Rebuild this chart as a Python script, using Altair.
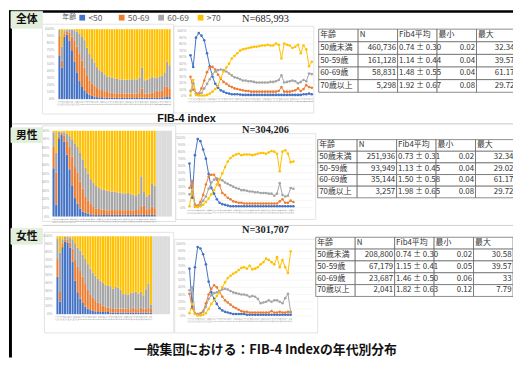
import altair as alt
import pandas as pd

# ---------------- data ----------------
FIB_BINS = ["0.1","0.2","0.3","0.4","0.5","0.6","0.7","0.8","0.9","1.0",
            "1.1","1.2","1.3","1.4","1.5","1.6","1.7","1.8","1.9","2.0",
            "2.1","2.2","2.3","2.4","2.5","2.6","2.7","2.8","2.9","3.0",
            "3.1","3.2","3.3","3.4","3.5","3.6","3.7","3.8","3.9","4.0",
            "4.1","4.2","4.3","4.4","4.5"]
AGES = ["<50", "50-69", "60-69", ">70"]
COLORS = ["#4472C4", "#ED7D31", "#A5A5A5", "#FFC000"]

# 全体 (% of each FIB-4 bin)
ALL_LT50 = [63,45,90,97,93,86,66,46,30,19, 13,9,7,5,4,3,3,3,2.5,2, 2,2,2,2,2,2,2,2,2,2, 2,2,2,2,2,2,2,2,2,2, 2,3,3,4,3]
ALL_50S  = [30,10,5,4,12,24,37,44,45,41, 33,27,22,19,16,14,12,11,10,9, 8,8,7,7,7,7,7,7,7,7, 7,7,8,14,7,7,7,8,9,12, 8,11,17,14,13]
ALL_60S  = [8,20,4,3,5,12,19,26,34,38, 40,41,40,38,35,32,29,28,26,24, 24,23,23,22,21,21,21,21,21,22, 22,23,25,32,21,22,23,24,23,20, 22,25,23,35,34]
ALL_70P  = [1,25,2,1,1,1,2,4,7,11, 16,28,38,44,50,58,62,66,70,72, 73,74,75,76,76,77,78,78,79,78, 78,81,79,58,81,79,78,74,76,79, 66,78,72,46,53]
# 男性
MALE_LT50 = [63,14,75,98,95,83,70,48,28,20, 12,7,5,4,3,2,2,2,2,2, 2,2,2,2,2,2,2,2,2,2, 2,2,2,2,2,2,2,2,2]
MALE_50S  = [28,38,2,3,8,18,33,44,47,47, 40,32,21,18,14,12,9,8,7,7, 6,6,6,6,6,6,6,6,6,6, 6,6,6,9,12,7,7,10,8]
MALE_60S  = [19,23,5,1,4,10,16,27,36,40, 42,41,39,36,34,32,30,28,27,25, 25,24,23,23,22,22,21,21,21,20, 20,17,20,35,18,16,17,28,27]
MALE_70P  = [2,26,1,1,2,4,8,13,19,25, 33,40,49,58,66,71,74,76,77,75, 76,76,76,75,76,77,78,78,77,79, 81,80,77,52,80,82,77,65,66]
# 女性
FEMALE_LT50 = [66,13,68,96,94,86,72,48,33,24, 17,11,8,6,5,4,3,3,3,3, 3,2,2,2,2,2,2,2,2,2, 2,2,2,2,2,2,2,2]
FEMALE_50S  = [31,11,4,3,4,7,18,30,38,43, 40,34,27,22,19,16,13,11,9,7, 6,6,5,5,5,5,5,5,5,5, 7,5,5,6,5,5,6,5]
FEMALE_60S  = [36,40,4,3,3,6,13,24,29,32, 33,35,37,38,37,35,33,32,31,30, 30,29,27,28,27,24,18,19,20,22, 20,22,22,20,18,25,31,6]
FEMALE_70P  = [4,17,3,1,1,2,4,10,17,22, 28,33,40,47,53,56,59,61,64,67, 68,66,70,65,66,68,72,75,80,78, 75,72,82,68,78,68,60,90]

TICK_VALS = [0, 10, 20, 30, 40, 50, 60, 70, 80, 90, 100]
TICK_LABELS = ["0%", "10%", "20%", "30%", "40%", "50%", "60%", "70%", "80%", "90%", "100%"]

TABLE_HEADER = ["年齢", "N", "Fib4平均", "最小", "最大"]
TABLE_AGES = ["50歳未満", "50-59歳", "60-69歳", "70歳以上"]
ALL_N = ["460,736", "161,128", "58,831", "5,298"]
ALL_MEAN = ["0.74 ± 0.30", "1.14 ± 0.44", "1.48 ± 0.55", "1.92 ± 0.67"]
ALL_MIN = ["0.02", "0.04", "0.04", "0.08"]
ALL_MAX = ["32.34", "39.57", "61.17", "29.72"]
MALE_N = ["251,936", "93,949", "35,144", "3,257"]
MALE_MEAN = ["0.73 ± 0.31", "1.13 ± 0.45", "1.50 ± 0.58", "1.98 ± 0.65"]
MALE_MIN = ["0.02", "0.04", "0.04", "0.08"]
MALE_MAX = ["32.34", "29.02", "61.17", "29.72"]
FEMALE_N = ["208,800", "67,179", "23,687", "2,041"]
FEMALE_MEAN = ["0.74 ± 0.30", "1.15 ± 0.41", "1.46 ± 0.50", "1.82 ± 0.63"]
FEMALE_MIN = ["0.02", "0.05", "0.06", "0.12"]
FEMALE_MAX = ["30.58", "39.57", "33", "7.79"]

SECTION_LABELS = ["全体", "男性", "女性"]
N_LABELS = ["N=685,993", "N=304,206", "N=301,707"]
CAPTION = "一般集団における：FIB-4 Indexの年代別分布"
SUBTITLE = "FIB-4 index"

CJK = "Noto Sans CJK JP"

# ---------------- helpers ----------------
def series_df(series):
    rows = []
    for k, (age, vals) in enumerate(zip(AGES, series)):
        for i, v in enumerate(vals):
            rows.append({"bin": FIB_BINS[i], "i": i, "age": age, "k": k, "v": v})
    return pd.DataFrame(rows)

ticks_df = pd.DataFrame({"v": TICK_VALS, "frac": [t / 100 for t in TICK_VALS], "lab": TICK_LABELS})

legend = alt.Legend(orient="none", legendX=55, legendY=3, direction="horizontal",
                    title="年齢", titleOrient="left", titleFontSize=7, titleFontWeight="normal",
                    titleColor="#595959", titleFont=CJK, titlePadding=2,
                    symbolType="square", symbolSize=34, symbolStrokeWidth=0,
                    labelFontSize=8.5, labelColor="#595959", labelFont=CJK, labelOffset=2,
                    gridAlign="all", columnPadding=7)
color_scale = alt.Scale(domain=AGES, range=COLORS)
stroke_scale = alt.Scale(domain=AGES, range=COLORS)
fill_scale = alt.Scale(domain=AGES, range=COLORS)

TICK_TEXT = "#a6a6a6"


def bar_group(series, xr, yr, ylab_x, xlab_y, fill_bottom):
    df = series_df(series)
    n = len(series[0])
    xs = alt.Scale(type="band", domain=FIB_BINS, range=xr, paddingInner=0.2, paddingOuter=0.05)
    ys = alt.Scale(type="linear", domain=[0, 1], range=yr, nice=False, zero=True)
    layers = []
    if n < len(FIB_BINS):
        filler = pd.DataFrame({"bin": FIB_BINS[n:], "top": [1] * (len(FIB_BINS) - n)})
        layers.append(alt.Chart(filler).mark_bar(color="#dcdcdc", width=alt.RelativeBandSize(1.35)).encode(
            x=alt.X("bin:N", scale=xs, axis=None),
            y=alt.Y("top:Q", scale=ys, axis=None),
            y2=alt.value(fill_bottom)))
    bars = alt.Chart(df).mark_bar().encode(
        x=alt.X("bin:N", scale=xs, axis=None),
        y=alt.Y("v:Q", stack="normalize", scale=ys, axis=None),
        color=alt.Color("age:N", scale=color_scale, legend=legend),
        order=alt.Order("k:Q", sort="ascending"))
    ylab = alt.Chart(ticks_df).mark_text(align="right", baseline="middle", fontSize=3.8, color=TICK_TEXT).encode(
        y=alt.Y("frac:Q", scale=ys, axis=None), x=alt.value(ylab_x), text="lab:N")
    xlab = alt.Chart(pd.DataFrame({"bin": FIB_BINS[:n]})).mark_text(
        angle=270, align="right", baseline="middle", fontSize=3, color=TICK_TEXT).encode(
        x=alt.X("bin:N", scale=xs, axis=None), y=alt.value(xlab_y), text="bin:N")
    return alt.layer(*layers, bars, ylab, xlab)


def line_group(series, xr, yr, ylab_x, xlab_y):
    df = series_df(series)
    n = len(series[0])
    xs = alt.Scale(type="point", domain=FIB_BINS, range=xr, padding=0)
    ys = alt.Scale(type="linear", domain=[0, 100], range=yr, nice=False, zero=True)
    grid = alt.Chart(ticks_df).mark_rule(color="#efefef", strokeWidth=0.6).encode(
        y=alt.Y("v:Q", scale=ys, axis=None), x=alt.value(xr[0] - 2), x2=alt.value(xr[1] + 3))
    lines = alt.Chart(df).mark_line(strokeWidth=1).encode(
        x=alt.X("bin:N", scale=xs, axis=None),
        y=alt.Y("v:Q", scale=ys, axis=None),
        stroke=alt.Stroke("age:N", scale=stroke_scale, legend=None),
        order=alt.Order("i:Q"))
    pts = alt.Chart(df).mark_circle(size=7, opacity=1).encode(
        x=alt.X("bin:N", scale=xs, axis=None),
        y=alt.Y("v:Q", scale=ys, axis=None),
        fill=alt.Fill("age:N", scale=fill_scale, legend=None))
    ylab = alt.Chart(ticks_df).mark_text(align="right", baseline="middle", fontSize=3.8, color=TICK_TEXT).encode(
        y=alt.Y("v:Q", scale=ys, axis=None), x=alt.value(ylab_x), text="lab:N")
    xlab = alt.Chart(pd.DataFrame({"bin": FIB_BINS[:n]})).mark_text(
        angle=270, align="right", baseline="middle", fontSize=3, color=TICK_TEXT).encode(
        x=alt.X("bin:N", scale=xs, axis=None), y=alt.value(xlab_y), text="bin:N")
    return alt.layer(grid, lines, pts, ylab, xlab)


def table_group(n_list, mean_list, min_list, max_list, xr, yr):
    rows = []
    for h in TABLE_HEADER:
        rows.append({"c": h, "r": 0, "t": h, "side": "L"})
    sides = ["L", "R", "L", "R", "R"]
    for j, age in enumerate(TABLE_AGES):
        vals = [age, n_list[j], mean_list[j], min_list[j], max_list[j]]
        for h, v, s in zip(TABLE_HEADER, vals, sides):
            rows.append({"c": h, "r": j + 1, "t": v, "side": s})
    df = pd.DataFrame(rows)
    xs = alt.Scale(type="band", domain=TABLE_HEADER, range=xr, paddingInner=0, paddingOuter=0)
    ys = alt.Scale(type="band", domain=[0, 1, 2, 3, 4], range=yr, paddingInner=0, paddingOuter=0)
    cells = alt.Chart(df).mark_rect(fill="white", stroke="#5a5a5a", strokeWidth=0.7).encode(
        x=alt.X("c:N", scale=xs, axis=None), y=alt.Y("r:O", scale=ys, axis=None))
    left = alt.Chart(df).transform_filter("datum.side == 'L'").mark_text(
        align="left", dx=1.5, baseline="middle", font=CJK, fontSize=8, color="#333333").encode(
        x=alt.X("c:N", scale=xs, axis=None, bandPosition=0),
        y=alt.Y("r:O", scale=ys, axis=None), text="t:N")
    right = alt.Chart(df).transform_filter("datum.side == 'R'").mark_text(
        align="right", dx=-1.5, baseline="middle", font=CJK, fontSize=8, color="#333333").encode(
        x=alt.X("c:N", scale=xs, axis=None, bandPosition=1),
        y=alt.Y("r:O", scale=ys, axis=None), text="t:N")
    return alt.layer(cells, left, right)


one = pd.DataFrame({"a": [0]})


def frame(x1, x2, y1, y2, stroke="#dddddd", fill="white", fo=0):
    return alt.Chart(one).mark_rect(stroke=stroke, strokeWidth=0.8, fill=fill, fillOpacity=fo).encode(
        x=alt.value(x1), x2=alt.value(x2), y=alt.value(y1), y2=alt.value(y2))


def rule(x1, x2, y1, y2, color, w):
    return alt.Chart(one).mark_rule(color=color, strokeWidth=w).encode(
        x=alt.value(x1), x2=alt.value(x2), y=alt.value(y1), y2=alt.value(y2))


def label(text, x, y, **kw):
    return alt.Chart(one).mark_text(text=text, **kw).encode(x=alt.value(x), y=alt.value(y))


decor = [
    frame(35, 168, 14, 105), frame(168, 310, 16, 104),
    frame(35, 170, 117, 214), frame(170, 312, 125, 212),
    frame(37, 168, 225, 327), frame(169, 314, 232, 327),
    rule(4, 512, 115, 115, "#c8c8c8", 1), rule(35, 512, 218, 218, "#d0d0d0", 1),
    rule(1, 512, 1, 1, "black", 2.5), rule(2.5, 2.5, 0, 352, "black", 3),
]

box_y = [(1, 18), (119, 134), (221, 237)]
labels = []
for (y1, y2), txt in zip(box_y, SECTION_LABELS):
    labels.append(frame(3, 35, y1, y2, stroke="#E2EFDA", fill="#E2EFDA", fo=1))
    labels.append(label(txt, 19, (y1 + y2) / 2 + 0.5, font=CJK, fontSize=11, fontWeight="bold",
                        align="center", baseline="middle", color="#111111"))

n_y = [9, 121, 223]
for i, (txt, y) in enumerate(zip(N_LABELS, n_y)):
    labels.append(label(txt, 261, y, font="Liberation Serif", fontSize=10.5,
                        fontWeight="bold" if i > 0 else "normal",
                        align="center", baseline="middle", color="#222222"))

labels.append(label(SUBTITLE, 181, 110, font="Liberation Sans", fontSize=11, fontWeight="bold",
                    align="center", baseline="middle", color="#111111"))
labels.append(label(CAPTION, 261, 344, font=CJK, fontSize=13, fontWeight="bold",
                    align="center", baseline="middle", color="#111111"))

groups = [
    bar_group([ALL_LT50, ALL_50S, ALL_60S, ALL_70P], [51, 165], [90, 19], 47, 92, 90),
    line_group([ALL_LT50, ALL_50S, ALL_60S, ALL_70P], [185, 308], [87, 21], 181, 89),
    table_group(ALL_N, ALL_MEAN, ALL_MIN, ALL_MAX, [315, 515], [19, 83]),
    bar_group([MALE_LT50, MALE_50S, MALE_60S, MALE_70P], [45, 166], [209, 122], 42, 211, 213),
    line_group([MALE_LT50, MALE_50S, MALE_60S, MALE_70P], [184, 306], [200, 129], 180, 202),
    table_group(MALE_N, MALE_MEAN, MALE_MIN, MALE_MAX, [314, 514], [131, 190]),
    bar_group([FEMALE_LT50, FEMALE_50S, FEMALE_60S, FEMALE_70P], [49, 164], [308, 229], 45, 310, 325),
    line_group([FEMALE_LT50, FEMALE_50S, FEMALE_60S, FEMALE_70P], [184, 306], [310, 237], 180, 312),
    table_group(FEMALE_N, FEMALE_MEAN, FEMALE_MIN, FEMALE_MAX, [312, 512], [230, 290]),
]

chart = alt.layer(*decor, *groups, *labels).resolve_scale(
    x="independent", y="independent"
).properties(
    width=512, height=352, autosize=alt.AutoSizeParams(type="none"), padding=0
).configure_view(stroke=None)

chart.save("out.html", embed_options={"renderer": "svg", "actions": False})
